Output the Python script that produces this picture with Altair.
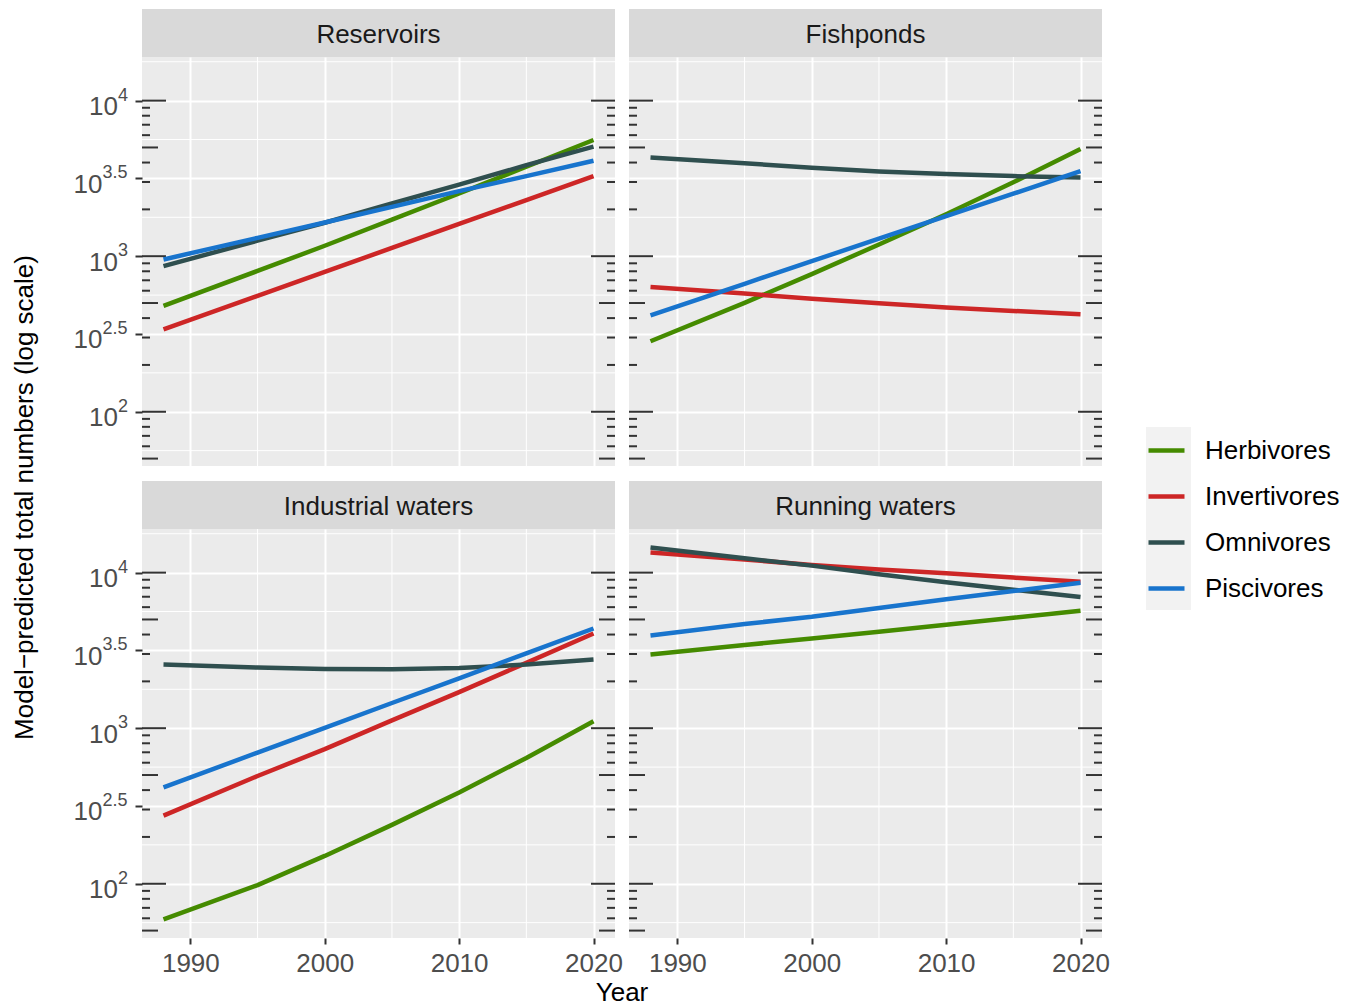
import math
import altair as alt
import pandas as pd

FONT = "Liberation Sans"

# ---------------- data ----------------
years = [1988, 1995, 2000, 2005, 2010, 2015, 2020]
groups = ["Herbivores", "Invertivores", "Omnivores", "Piscivores"]
colors = ["#458B00", "#CD2626", "#2F4F4F", "#1874CD"]
habitats = ["Reservoirs", "Fishponds", "Industrial waters", "Running waters"]

reservoirs_herbivores = [479, 804, 1167, 1718, 2529, 3758, 5585]
reservoirs_invertivores = [339, 556, 793, 1130, 1611, 2296, 3273]
reservoirs_omnivores = [863, 1259, 1641, 2188, 2884, 3846, 5058]
reservoirs_piscivores = [953, 1312, 1648, 2075, 2618, 3273, 4111]

fishponds_herbivores = [284, 501, 767, 1189, 1862, 2985, 4887]
fishponds_invertivores = [635, 575, 533, 498, 468, 445, 424]
fishponds_omnivores = [4315, 3954, 3707, 3508, 3373, 3273, 3206]
fishponds_piscivores = [417, 665, 929, 1297, 1807, 2523, 3524]

industrial_herbivores = [59, 98, 151, 239, 386, 644, 1109]
industrial_invertivores = [274, 493, 733, 1122, 1706, 2630, 4064]
industrial_omnivores = [2564, 2455, 2404, 2393, 2438, 2564, 2761]
industrial_piscivores = [416, 697, 1005, 1452, 2094, 3027, 4375]

running_herbivores = [2972, 3428, 3767, 4169, 4624, 5129, 5689]
running_invertivores = [13459, 12162, 11194, 10471, 9908, 9290, 8750]
running_omnivores = [14488, 12359, 11092, 9772, 8670, 7762, 6966]
running_piscivores = [3945, 4677, 5200, 5929, 6745, 7621, 8610]

x_major = [1990, 2000, 2010, 2020]
x_minor = [1995, 2005, 2015]
y_break_exponents = ["2", "2.5", "3", "3.5", "4"]
y_minor_exponents = [1.75, 2.25, 2.75, 3.25, 3.75, 4.25]

y_title = "Model\u2212predicted total numbers (log scale)"
x_title = "Year"

series = {
    "Reservoirs": [reservoirs_herbivores, reservoirs_invertivores, reservoirs_omnivores, reservoirs_piscivores],
    "Fishponds": [fishponds_herbivores, fishponds_invertivores, fishponds_omnivores, fishponds_piscivores],
    "Industrial waters": [industrial_herbivores, industrial_invertivores, industrial_omnivores, industrial_piscivores],
    "Running waters": [running_herbivores, running_invertivores, running_omnivores, running_piscivores],
}

rows = []
for hab in habitats:
    for g, vals in zip(groups, series[hab]):
        for yr, v in zip(years, vals):
            rows.append({"Habitat": hab, "Group": g, "Year": yr, "Value": v})
df = pd.DataFrame(rows)

# scale ranges (ggplot-like 5% expansion)
logs = [math.log10(v) for v in df["Value"]]
lo, hi = min(logs), max(logs)
pad = 0.05 * (hi - lo)
lo_e, hi_e = lo - pad, hi + pad
y_domain = [10 ** lo_e, 10 ** hi_e]
xpad = 0.05 * (max(years) - min(years))
x_domain = [min(years) - xpad, max(years) + xpad]

y_major_vals = [10 ** float(e) for e in y_break_exponents]
minor_y_df = pd.DataFrame({"v": [10 ** e for e in y_minor_exponents if lo_e < e < hi_e]})
minor_x_df = pd.DataFrame({"yr": x_minor})

lt_rows = []
for k in range(1, 5):
    for m in range(1, 10):
        v = m * 10 ** k
        if y_domain[0] <= v <= y_domain[1]:
            lt_rows.append({"v": v, "kind": "long" if m == 1 else ("mid" if m == 5 else "short")})
logtick_df = pd.DataFrame(lt_rows)

ylab_df = pd.DataFrame({
    "v": y_major_vals,
    "base": ["10"] * len(y_break_exponents),
    "exp": y_break_exponents,
    "half": ["." in e for e in y_break_exponents],
})

# ---------------- layout constants ----------------
W, H = 473, 409
STRIP = 48
TICK_COL = "#333333"
LABEL_COL = "#4D4D4D"

xs = alt.Scale(domain=x_domain, nice=False, zero=False)
ys = alt.Scale(type="log", domain=y_domain, nice=False)

legend = alt.Legend(
    title=None, orient="none", legendX=1004, legendY=373, padding=0,
    symbolType="stroke", symbolSize=1296, symbolStrokeWidth=4.5,
    labelFontSize=26, labelFont=FONT, labelColor="black", labelOffset=18,
    rowPadding=12,
)
color = alt.Color("Group:N", scale=alt.Scale(domain=groups, range=colors), legend=legend)


def panel(hab, left, bottom, right_col):
    xaxis = alt.Axis(
        values=x_major, format="d", grid=True, gridColor="white", gridWidth=2,
        domain=False, ticks=bottom, labels=bottom, tickColor=TICK_COL, tickWidth=2,
        tickSize=6, labelFontSize=26, labelFont=FONT, labelColor=LABEL_COL,
        labelPadding=6, labelFlush=False, labelOverlap=False, title=None,
    )
    yaxis = alt.Axis(
        values=y_major_vals, grid=True, gridColor="white", gridWidth=2,
        domain=False, ticks=left, labels=False, tickColor=TICK_COL, tickWidth=2,
        tickSize=7, title=None,
    )
    layers = []
    layers.append(alt.Chart(minor_y_df).mark_rule(color="white", strokeWidth=1).encode(
        y=alt.Y("v:Q", scale=ys, axis=yaxis)))
    layers.append(alt.Chart(minor_x_df).mark_rule(color="white", strokeWidth=1).encode(
        x=alt.X("yr:Q", scale=xs, axis=xaxis)))
    for kind, length in [("short", 8), ("mid", 16), ("long", 24)]:
        sub = logtick_df[logtick_df["kind"] == kind]
        layers.append(alt.Chart(sub).mark_rule(color=TICK_COL, strokeWidth=2).encode(
            y=alt.Y("v:Q", scale=ys, axis=yaxis), x=alt.value(0), x2=alt.value(length)))
        layers.append(alt.Chart(sub).mark_rule(color=TICK_COL, strokeWidth=2).encode(
            y=alt.Y("v:Q", scale=ys, axis=yaxis), x=alt.value(W - length), x2=alt.value(W)))
    d = df[df["Habitat"] == hab]
    layers.append(alt.Chart(d).mark_line(strokeWidth=4.5, strokeJoin="round").encode(
        x=alt.X("Year:Q", scale=xs, axis=xaxis),
        y=alt.Y("Value:Q", scale=ys, axis=yaxis),
        color=color,
    ))
    strip_df = pd.DataFrame({"Habitat": [hab]})
    layers.append(alt.Chart(strip_df).mark_rect(color="#D9D9D9").encode(
        x=alt.value(0), x2=alt.value(W), y=alt.value(-STRIP), y2=alt.value(0)))
    layers.append(alt.Chart(strip_df).mark_text(
        font=FONT, fontSize=26, color="#1A1A1A", align="center", baseline="alphabetic").encode(
        text="Habitat:N", x=alt.value(W / 2), y=alt.value(-14.3)))
    if left:
        for half, xb in [(False, -24), (True, -39.5)]:
            sub = ylab_df[ylab_df["half"] == half]
            layers.append(alt.Chart(sub).mark_text(
                font=FONT, fontSize=26, color=LABEL_COL, align="right", baseline="alphabetic", dy=14.3).encode(
                y=alt.Y("v:Q", scale=ys, axis=yaxis), x=alt.value(xb), text="base:N"))
            layers.append(alt.Chart(sub).mark_text(
                font=FONT, fontSize=18, color=LABEL_COL, align="left", baseline="alphabetic").encode(
                y=alt.Y("v:Q", scale=ys, axis=yaxis), x=alt.value(xb), text="exp:N"))
    if left and not bottom:
        t = pd.DataFrame({"t": [y_title]})
        layers.append(alt.Chart(t).mark_text(
            font=FONT, fontSize=26, color="black", align="center", baseline="alphabetic", angle=270).encode(
            text="t:N", x=alt.value(-109), y=alt.value(440.5)))
    if left and bottom:
        t = pd.DataFrame({"t": [x_title]})
        layers.append(alt.Chart(t).mark_text(
            font=FONT, fontSize=26, color="black", align="center", baseline="alphabetic").encode(
            text="t:N", x=alt.value(480), y=alt.value(H + 63)))
    if right_col and not bottom:
        kb = pd.DataFrame({"k": [1]})
        layers.append(alt.Chart(kb).mark_rect(color="#F2F2F2").encode(
            x=alt.value(W + 44), x2=alt.value(W + 89), y=alt.value(370), y2=alt.value(553)))
    return alt.layer(*layers).properties(width=W, height=H)


p1 = panel("Reservoirs", True, False, False)
p2 = panel("Fishponds", False, False, True)
p3 = panel("Industrial waters", True, True, False)
p4 = panel("Running waters", False, True, True)

chart = alt.concat(
    p1, p2, p3, p4, columns=2, spacing={"row": 63, "column": 14}, bounds="flush"
).properties(
    padding={"left": 4, "top": 1, "right": 0, "bottom": 0}
).configure(font=FONT).configure_view(fill="#EBEBEB", strokeWidth=0)

chart.save("out.html", embed_options={"renderer": "svg", "actions": False})
